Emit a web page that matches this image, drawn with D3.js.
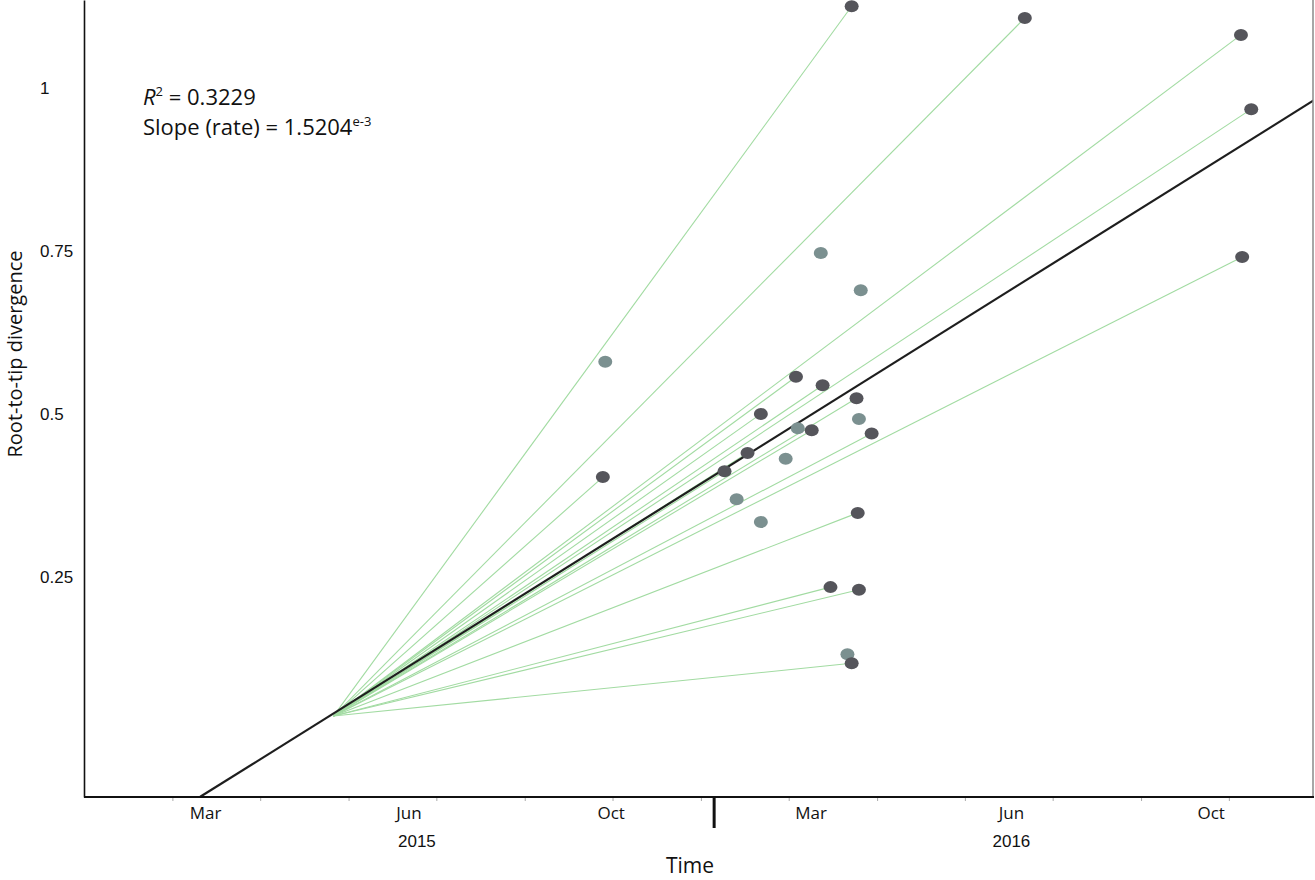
<!DOCTYPE html>
<html>
<head>
<meta charset="utf-8">
<script src="https://cdn.jsdelivr.net/npm/d3@7"></script>
<style>
  html, body { margin: 0; padding: 0; background: #fff; }
  svg { display: block; font-family: "Open Sans", "Noto Sans", sans-serif; }
</style>
</head>
<body>
<svg id="chart" width="1315" height="880"></svg>
<script>
// ---------- data (decimal year, root-to-tip divergence) ----------
const tipDates = [2016.228, 2016.514, 2016.871, 2016.888, 2016.873, 2015.817,
                  2016.136, 2016.180, 2016.236, 2016.078, 2016.162, 2016.261,
                  2016.056, 2016.018, 2016.238, 2016.193, 2016.240, 2016.228];
const tipDivergence = [1.126, 1.108, 1.082, 0.968, 0.741, 0.403,
                       0.557, 0.544, 0.524, 0.500, 0.475, 0.470,
                       0.440, 0.412, 0.348, 0.234, 0.230, 0.117];
const otherDates = [2015.821, 2016.177, 2016.243, 2016.139, 2016.240, 2016.119,
                    2016.038, 2016.078, 2016.221];
const otherDivergence = [0.580, 0.747, 0.690, 0.478, 0.492, 0.431,
                         0.369, 0.334, 0.131];
const rootPoint = [2015.372, 0.036];
const regressionEnds = [[2015.152, -0.088], [2016.992, 0.982]];

const yTickValues = [0.25, 0.5, 0.75, 1];
const yTickLabels = ["0.25", "0.5", "0.75", "1"];
const xTickValues = [2015.160, 2015.496, 2015.830, 2016.160, 2016.491, 2016.821];
const xTickLabels = ["Mar", "Jun", "Oct", "Mar", "Jun", "Oct"];
const minorTickValues = [2015.106, 2015.251, 2015.397, 2015.542, 2015.688, 2015.833,
                         2015.979, 2016.124, 2016.270, 2016.415, 2016.560, 2016.706, 2016.851];
const yearTickValues = [2015.509, 2016.491];
const yearLabels = ["2015", "2016"];
const yearBreak = [2016.0];

// ---------- layout ----------
const svg = d3.select("#chart");
const L = 84, R = 1313, T = 0, B = 797;

const x = d3.scaleLinear().domain([2014.96, 2016.99]).range([L, R]);
const y = d3.scaleLinear().domain([-0.0883, 1.1356]).range([B, T]);

svg.append("defs").append("clipPath").attr("id", "plotclip")
  .append("rect").attr("x", L).attr("y", T).attr("width", R - L).attr("height", B - T);

const plot = svg.append("g").attr("clip-path", "url(#plotclip)");

const tips = tipDates.map((d, i) => ({ t: d, v: tipDivergence[i] }));
const others = otherDates.map((d, i) => ({ t: d, v: otherDivergence[i] }));

// root-to-tip lines
plot.selectAll("line.tip").data(tips).join("line")
  .attr("class", "tip")
  .attr("x1", x(rootPoint[0])).attr("y1", y(rootPoint[1]))
  .attr("x2", d => x(d.t)).attr("y2", d => y(d.v))
  .attr("stroke", "#a2dba2").attr("stroke-width", 1.1);

// regression line
plot.append("line")
  .attr("x1", x(regressionEnds[0][0])).attr("y1", y(regressionEnds[0][1]))
  .attr("x2", x(regressionEnds[1][0])).attr("y2", y(regressionEnds[1][1]))
  .attr("stroke", "#1e1e1e").attr("stroke-width", 2.2);

// points
svg.selectAll("ellipse.other").data(others).join("ellipse")
  .attr("class", "other")
  .attr("cx", d => x(d.t)).attr("cy", d => y(d.v))
  .attr("rx", 7).attr("ry", 6)
  .attr("fill", "#7b9090");

svg.selectAll("ellipse.tipPt").data(tips).join("ellipse")
  .attr("class", "tipPt")
  .attr("cx", d => x(d.t)).attr("cy", d => y(d.v))
  .attr("rx", 7).attr("ry", 6)
  .attr("fill", "#55555b");

// frame: right border
svg.append("line").attr("x1", R).attr("x2", R).attr("y1", T).attr("y2", B)
  .attr("stroke", "#8a8a8a").attr("stroke-width", 1.5);

// ---------- axes ----------
const gMinor = svg.append("g").attr("transform", `translate(0,${B})`)
  .call(d3.axisBottom(x).tickValues(minorTickValues).tickSize(4).tickFormat(""));
gMinor.select(".domain").remove();
gMinor.selectAll(".tick line").attr("stroke", "#aaa").attr("stroke-width", 1);

const gX = svg.append("g").attr("transform", `translate(0,${B})`)
  .call(d3.axisBottom(x).tickValues(xTickValues).tickSize(0).tickPadding(10)
        .tickFormat((d, i) => xTickLabels[i]));
gX.select(".domain").remove();
gX.selectAll("text").attr("font-size", 17).attr("fill", "#111")
  .attr("font-family", "'Open Sans', sans-serif");

const gYear = svg.append("g").attr("transform", `translate(0,${B})`)
  .call(d3.axisBottom(x).tickValues(yearTickValues).tickSize(0).tickPadding(38)
        .tickFormat((d, i) => yearLabels[i]));
gYear.select(".domain").remove();
gYear.selectAll("text").attr("font-size", 17).attr("fill", "#111");

const gBreak = svg.append("g").attr("transform", `translate(0,${B})`)
  .call(d3.axisBottom(x).tickValues(yearBreak).tickSize(31).tickFormat(""));
gBreak.select(".domain").remove();
gBreak.selectAll(".tick line").attr("stroke", "#111").attr("stroke-width", 3);

svg.append("line").attr("x1", L).attr("x2", R + 1).attr("y1", B).attr("y2", B)
  .attr("stroke", "#111").attr("stroke-width", 2);

const gY = svg.append("g").attr("transform", `translate(${L},0)`)
  .call(d3.axisLeft(y).tickValues(yTickValues).tickSize(0)
        .tickFormat((d, i) => yTickLabels[i]));
gY.select(".domain").attr("stroke", "#111").attr("stroke-width", 1.6);
gY.selectAll("text").attr("text-anchor", "start").attr("x", -44)
  .attr("font-size", 17).attr("fill", "#111");

// axis titles
svg.append("text").attr("x", 690).attr("y", 873)
  .attr("text-anchor", "middle").attr("font-size", 21).attr("fill", "#111")
  .text("Time");

svg.append("text")
  .attr("transform", "translate(22,354) rotate(-90)")
  .attr("text-anchor", "middle").attr("font-size", 20).attr("fill", "#111")
  .text("Root-to-tip divergence");

// annotation
const ann = svg.append("text").attr("x", 143).attr("y", 105)
  .attr("font-size", 22).attr("fill", "#111");
ann.append("tspan").attr("font-style", "italic").text("R");
ann.append("tspan").attr("font-size", 13).attr("dy", -9).text("2");
ann.append("tspan").attr("dy", 9).text(" = 0.3229");

const ann2 = svg.append("text").attr("x", 143).attr("y", 135)
  .attr("font-size", 22).attr("fill", "#111");
ann2.append("tspan").text("Slope (rate) = 1.5204");
ann2.append("tspan").attr("font-size", 13).attr("dy", -9).text("e-3");
</script>
</body>
</html>
